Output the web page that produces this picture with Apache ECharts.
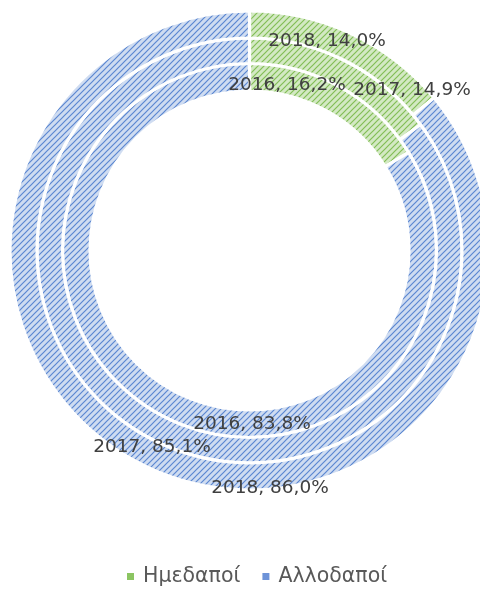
<!DOCTYPE html>
<html>
<head>
<meta charset="utf-8">
<script src="https://cdn.jsdelivr.net/npm/echarts@6/dist/echarts.min.js"></script>
<style>
	html, body { margin: 0; padding: 0; background: #ffffff; }
	#chart { width: 480px; height: 592px; }
</style>
</head>
<body>
<div id="chart"></div>
<script>
"use strict";

/*-----data-----*/
var categories = ['Ημεδαποί', 'Αλλοδαποί'];
var years = ['2016', '2017', '2018'];
var share2016 = [16.2, 83.8];
var share2017 = [14.9, 85.1];
var share2018 = [14.0, 86.0];

/*-----hatch patterns-----*/
function makeHatch(bg, fg) {
	var c = document.createElement('canvas');
	c.width = 6;
	c.height = 6;
	var ctx = c.getContext('2d');
	ctx.fillStyle = bg;
	ctx.fillRect(0, 0, 6, 6);
	ctx.strokeStyle = fg;
	ctx.lineWidth = 1.2;
	ctx.beginPath();
	ctx.moveTo(-1, 7); ctx.lineTo(7, -1);
	ctx.moveTo(-1, 1); ctx.lineTo(1, -1);
	ctx.moveTo(5, 7); ctx.lineTo(7, 5);
	ctx.stroke();
	return { image: c, repeat: 'repeat' };
}
var greenHatch = makeHatch('#d3e9c3', '#82bd56');
var blueHatch = makeHatch('#cfdcf1', '#5b87d1');
var legendColors = ['#8cc562', '#6d93d8'];

// where Excel placed each label (series index -> [green, blue])
var labelPos = [
	[[287, 85], [252, 424]],
	[[412, 90], [152, 447]],
	[[327, 41], [270, 488]]
];

function ring(idx, values, radius) {
	return {
		name: years[idx],
		type: 'pie',
		center: [249.5, 250.5],
		radius: radius,
		startAngle: 90,
		clockwise: true,
		silent: true,
		itemStyle: { borderColor: '#ffffff', borderWidth: 3.2 },
		label: {
			show: true,
			position: 'inside',
			color: '#404040',
			fontFamily: 'DejaVu Sans',
			fontSize: 18.5,
			formatter: function (p) {
				return p.seriesName + ', ' + p.value.toFixed(1).replace('.', ',') + '%';
			}
		},
		labelLine: { show: false },
		labelLayout: function (p) {
			var pos = labelPos[idx][p.dataIndex];
			return { x: pos[0], y: pos[1], align: 'center', verticalAlign: 'middle' };
		},
		data: categories.map(function (name, i) {
			return { name: name, value: values[i] };
		})
	};
}

var chart = echarts.init(document.getElementById('chart'));
var option = {
	animation: false,
	color: [greenHatch, blueHatch],
	legend: {
		bottom: 0,
		left: 120,
		itemWidth: 9,
		itemHeight: 9,
		itemGap: 20,
		icon: 'rect',
		textStyle: {
			color: '#595959',
			fontFamily: 'DejaVu Sans',
			fontSize: 20.5,
			padding: [0, 0, 0, 3]
		},
		data: categories.map(function (name, i) {
			return { name: name, itemStyle: { color: legendColors[i] } };
		})
	},
	series: [
		ring(0, share2016, [159.5, 187]),
		ring(1, share2017, [187, 212.5]),
		ring(2, share2018, [212.5, 239.5])
	]
};
chart.setOption(option);
</script>
</body>
</html>
